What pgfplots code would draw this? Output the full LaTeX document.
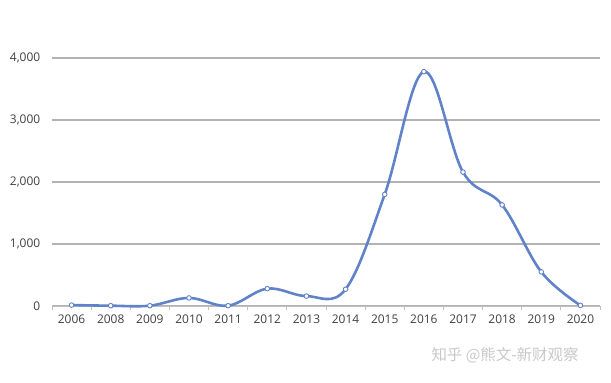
\documentclass[border=0pt]{standalone}
\usepackage{pgfplots}
\pgfplotsset{compat=1.18}
\usepackage{fontspec}
\setmainfont{Open Sans}
\newfontfamily\cjk{Noto Sans CJK SC}
\definecolor{lineblue}{RGB}{96,130,200}
\definecolor{gridgray}{RGB}{178,178,178}
\definecolor{axisgray}{RGB}{191,191,191}
\definecolor{labelgray}{RGB}{64,64,64}
\definecolor{wmgray}{RGB}{200,200,200}
\begin{document}
\begin{tikzpicture}
\path[use as bounding box] (-52bp,-77bp) rectangle (559bp,306bp);
\begin{axis}[
  scale only axis,
  width=548bp, height=248bp,
  xmin=-0.5, xmax=13.5,
  ymin=0, ymax=4000,
  axis x line*=bottom,
  axis y line*=left,
  y axis line style={draw=none},
  x axis line style={draw=axisgray, line width=0.9pt, -},
  xtick={0,...,13},
  xticklabels={2006,2008,2009,2010,2011,2012,2013,2014,2015,2016,2017,2018,2019,2020},
  major x tick style={draw=none},
  minor xtick={-0.5,0.5,...,13.5},
  minor x tick style={draw=axisgray, line width=0.9pt},
  minor tick length=4bp,
  tick align=outside,
  ytick={0,1000,2000,3000,4000},
  major y tick style={draw=none},
  ymajorgrids,
  grid style={draw=gridgray, line width=1.1pt},
  /pgf/number format/assume math mode=true,
  /pgf/number format/1000 sep={,},
  scaled y ticks=false,
  ticklabel style={font=\fontsize{12}{14}\selectfont, text=labelgray},
  yticklabel style={xshift=-4bp},
  xticklabel style={yshift=-1bp},
  clip=false,
]
\addplot[lineblue, line width=2.6pt, smooth, tension=0.6,
  mark=*, mark size=2.3bp, mark options={fill=white, draw=lineblue, line width=0.9pt}]
  coordinates {
  (0,15) (1,5) (2,5) (3,130) (4,5) (5,280) (6,160) (7,270)
  (8,1800) (9,3780) (10,2160) (11,1630) (12,550) (13,10)
  };
\end{axis}
\node[anchor=center, text=wmgray, font=\cjk\fontsize{15.5}{17}\selectfont] at (453bp,-49bp) {知乎 @熊文-新财观察};
\end{tikzpicture}
\end{document}
